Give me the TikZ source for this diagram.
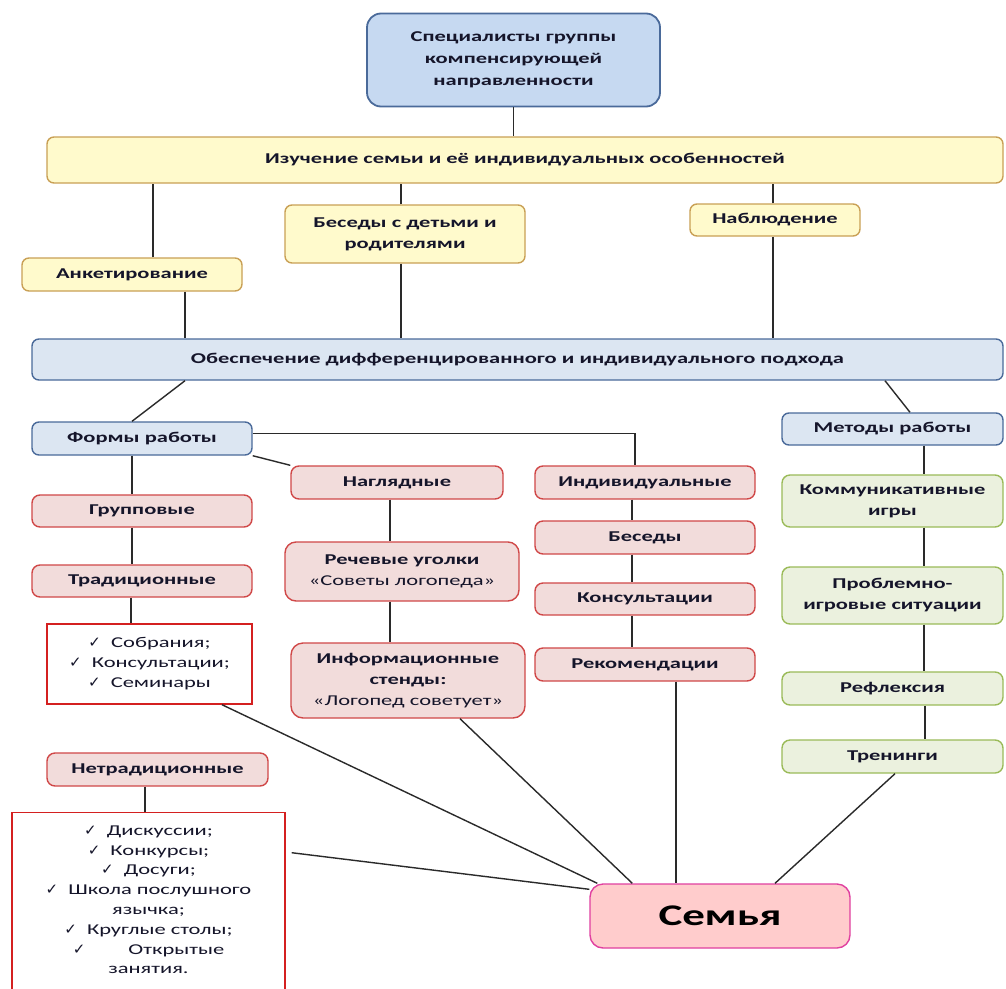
\documentclass[tikz,border=0pt]{standalone}
\usepackage{fontspec}
\setmainfont{Carlito}[FakeStretch=1.5]
\newfontfamily\symf{DejaVu Sans}
\newcommand\ck{{\symf\fontsize{15}{15}\selectfont ✓}\ \ }
\definecolor{txt}{HTML}{15152A}
\definecolor{ln}{HTML}{2A2A2A}
\definecolor{bluefillA}{HTML}{C6D9F1}
\definecolor{bluefillB}{HTML}{DCE6F2}
\definecolor{bluedraw}{HTML}{4A6A9A}
\definecolor{yelfill}{HTML}{FFFACC}
\definecolor{yeldraw}{HTML}{C9A055}
\definecolor{pinkfill}{HTML}{F2DCDB}
\definecolor{pinkdraw}{HTML}{D04848}
\definecolor{grnfill}{HTML}{EBF1DE}
\definecolor{grndraw}{HTML}{9BBB59}
\definecolor{listdraw}{HTML}{D42020}
\definecolor{famfill}{HTML}{FFCCCC}
\definecolor{famdraw}{HTML}{E040A0}
\tikzset{
  base/.style={inner sep=0pt, align=center, text=txt,
    font=\bfseries\fontsize{15}{21}\selectfont},
  topbox/.style={base, fill=bluefillA, draw=bluedraw, line width=1.8pt, rounded corners=14pt,
    font=\bfseries\fontsize{15}{22}\selectfont},
  bluebox/.style={base, fill=bluefillB, draw=bluedraw, line width=1.4pt, rounded corners=7pt},
  yelbox/.style={base, fill=yelfill, draw=yeldraw, line width=1.4pt, rounded corners=7pt},
  pinkbox/.style={base, fill=pinkfill, draw=pinkdraw, line width=1.4pt, rounded corners=8pt},
  grnbox/.style={base, fill=grnfill, draw=grndraw, line width=1.4pt, rounded corners=8pt},
  listbox/.style={base, fill=white, draw=listdraw, line width=1.4pt,
    font=\fontsize{15}{20}\selectfont},
  fambox/.style={base, fill=famfill, draw=famdraw, line width=1.4pt, rounded corners=13pt,
    font=\bfseries\fontsize{30}{30}\selectfont, text=black},
  conn/.style={draw=ln, line width=1.4pt},
}
\begin{document}
\begin{tikzpicture}[x=1pt,y=-1pt]
\useasboundingbox (0,0) rectangle (1006,988);
\clip (0,0) rectangle (1006,988);
\fill[white] (0,0) rectangle (1006,988);

% nodes
\node[topbox, minimum width=293, minimum height=93] (top) at (513.5,60)
  {Специалисты группы\\компенсирующей\\направленности};
\node[yelbox, minimum width=956, minimum height=46] (izuch) at (525,160)
  {Изучение семьи и её индивидуальных особенностей};
\node[yelbox, minimum width=240, minimum height=58] (bes1) at (405,234)
  {Беседы с детьми и\\родителями};
\node[yelbox, minimum width=170, minimum height=32] (nabl) at (775,220) {Наблюдение};
\node[yelbox, minimum width=220, minimum height=33] (anket) at (132,274.5) {Анкетирование};
\node[bluebox, minimum width=971, minimum height=41] (obesp) at (517.5,359.5)
  {Обеспечение дифференцированного и индивидуального подхода};
\node[bluebox, minimum width=220, minimum height=33] (formy) at (142,438.5) {Формы работы};
\node[bluebox, minimum width=221, minimum height=32] (metody) at (892.5,429) {Методы работы};

\node[pinkbox, minimum width=220, minimum height=32] (grupp) at (142,511) {Групповые};
\node[pinkbox, minimum width=220, minimum height=32] (trad) at (142,581) {Традиционные};
\node[listbox, minimum width=205, minimum height=80] (list1) at (149.5,664)
  {\ck Собрания;\\\ck Консультации;\\\ck Семинары};
\node[pinkbox, minimum width=221, minimum height=33] (netrad) at (157.5,769.5) {Нетрадиционные};
\node[listbox, minimum width=273, minimum height=188, anchor=north] (list2) at (148.5,812)
  {};
\node[listbox, draw=none, fill=none, anchor=north, font=\fontsize{15}{19.8}\selectfont] (list2text) at (148.5,825)
  {\ck Дискуссии;\\\ck Конкурсы;\\\ck Досуги;\\\ck Школа послушного\\язычка;\\\ck Круглые столы;\\\ck\hspace{2.2em}Открытые\\занятия.};

\node[pinkbox, minimum width=212, minimum height=33] (nagl) at (397,482.5) {Наглядные};
\node[pinkbox, minimum width=234, minimum height=59, rounded corners=11pt] (rech) at (402,571.5)
  {Речевые уголки\\\mdseries«Советы логопеда»};
\node[pinkbox, minimum width=234, minimum height=75, rounded corners=12pt] (inform) at (408,680.5)
  {Информационные\\стенды:\\\mdseries«Логопед советует»};

\node[pinkbox, minimum width=220, minimum height=33] (indiv) at (645,482.5) {Индивидуальные};
\node[pinkbox, minimum width=220, minimum height=33] (bes2) at (645,537.5) {Беседы};
\node[pinkbox, minimum width=220, minimum height=32] (kons) at (645,599) {Консультации};
\node[pinkbox, minimum width=220, minimum height=33] (rekom) at (645,664.5) {Рекомендации};

\node[grnbox, minimum width=221, minimum height=52] (komm) at (892.5,501) {Коммуникативные\\игры};
\node[grnbox, minimum width=221, minimum height=57] (probl) at (892.5,595.5) {Проблемно-\\игровые ситуации};
\node[grnbox, minimum width=221, minimum height=33] (refl) at (892.5,688.5) {Рефлексия};
\node[grnbox, minimum width=221, minimum height=33] (tren) at (892.5,756.5) {Тренинги};

\node[fambox, minimum width=260, minimum height=64] (semya) at (720,916) {Семья};

% connectors
\draw[conn] (top.south) -- (top.south |- izuch.north);
\draw[conn] ([xshift=21pt]anket.north) -- ([xshift=21pt]anket.north |- izuch.south);
\draw[conn] ([xshift=-4pt]bes1.north) -- ([xshift=-4pt]bes1.north |- izuch.south);
\draw[conn] ([xshift=-2pt]nabl.north) -- ([xshift=-2pt]nabl.north |- izuch.south);
\draw[conn] ([xshift=53pt]anket.south) -- ([xshift=53pt]anket.south |- obesp.north);
\draw[conn] ([xshift=-4pt]bes1.south) -- ([xshift=-4pt]bes1.south |- obesp.north);
\draw[conn] ([xshift=-2pt]nabl.south) -- ([xshift=-2pt]nabl.south |- obesp.north);
\draw[conn] ([xshift=43pt]formy.north |- obesp.south) -- ([xshift=-10pt]formy.north);
\draw[conn] ([xshift=-7.5pt]metody.north |- obesp.south) -- ([xshift=17.5pt]metody.north);
\draw[conn] ([yshift=5pt]formy.east) -| ([xshift=-10pt]indiv.north);
\draw[conn] (formy.south east) -- (nagl.north west);
\draw[conn] ([xshift=-10pt]formy.south) -- ([xshift=-10pt]grupp.north);
\draw[conn] ([xshift=-10pt]grupp.south) -- ([xshift=-10pt]trad.north);
\draw[conn] ([xshift=-11pt]trad.south) -- ([xshift=-11pt]trad.south |- list1.north);
\draw[conn] ([xshift=-12.5pt]netrad.south) -- ([xshift=-12.5pt]netrad.south |- list2.north);
\draw[conn] ([xshift=-7pt]nagl.south) -- ([xshift=-7pt]nagl.south |- rech.north);
\draw[conn] ([xshift=-12pt]rech.south) -- ([xshift=-12pt]rech.south |- inform.north);
\draw[conn] ([xshift=-13pt]indiv.south) -- ([xshift=-13pt]bes2.north);
\draw[conn] ([xshift=-13pt]bes2.south) -- ([xshift=-13pt]kons.north);
\draw[conn] ([xshift=-13pt]kons.south) -- ([xshift=-13pt]rekom.north);
\draw[conn] ([xshift=31pt]rekom.south) -- ([xshift=31pt]rekom.south |- semya.north);
\draw[conn] ([xshift=31.5pt]metody.south) -- ([xshift=31.5pt]komm.north);
\draw[conn] ([xshift=31.5pt]komm.south) -- ([xshift=31.5pt]probl.north);
\draw[conn] ([xshift=31.5pt]probl.south) -- ([xshift=31.5pt]refl.north);
\draw[conn] ([xshift=32.5pt]refl.south) -- ([xshift=32.5pt]tren.north);
\draw[conn] ([xshift=2.5pt]tren.south) -- ([xshift=55pt]semya.north);
\draw[conn] ([xshift=72.5pt]list1.south) -- ([xshift=8pt]semya.north west);
\draw[conn] ([xshift=52pt]inform.south) -- ([xshift=43pt]semya.north west);
\draw[conn] ([xshift=6pt,yshift=54pt]list2.east) -- ([yshift=-6pt]semya.north west);
\end{tikzpicture}
\end{document}
